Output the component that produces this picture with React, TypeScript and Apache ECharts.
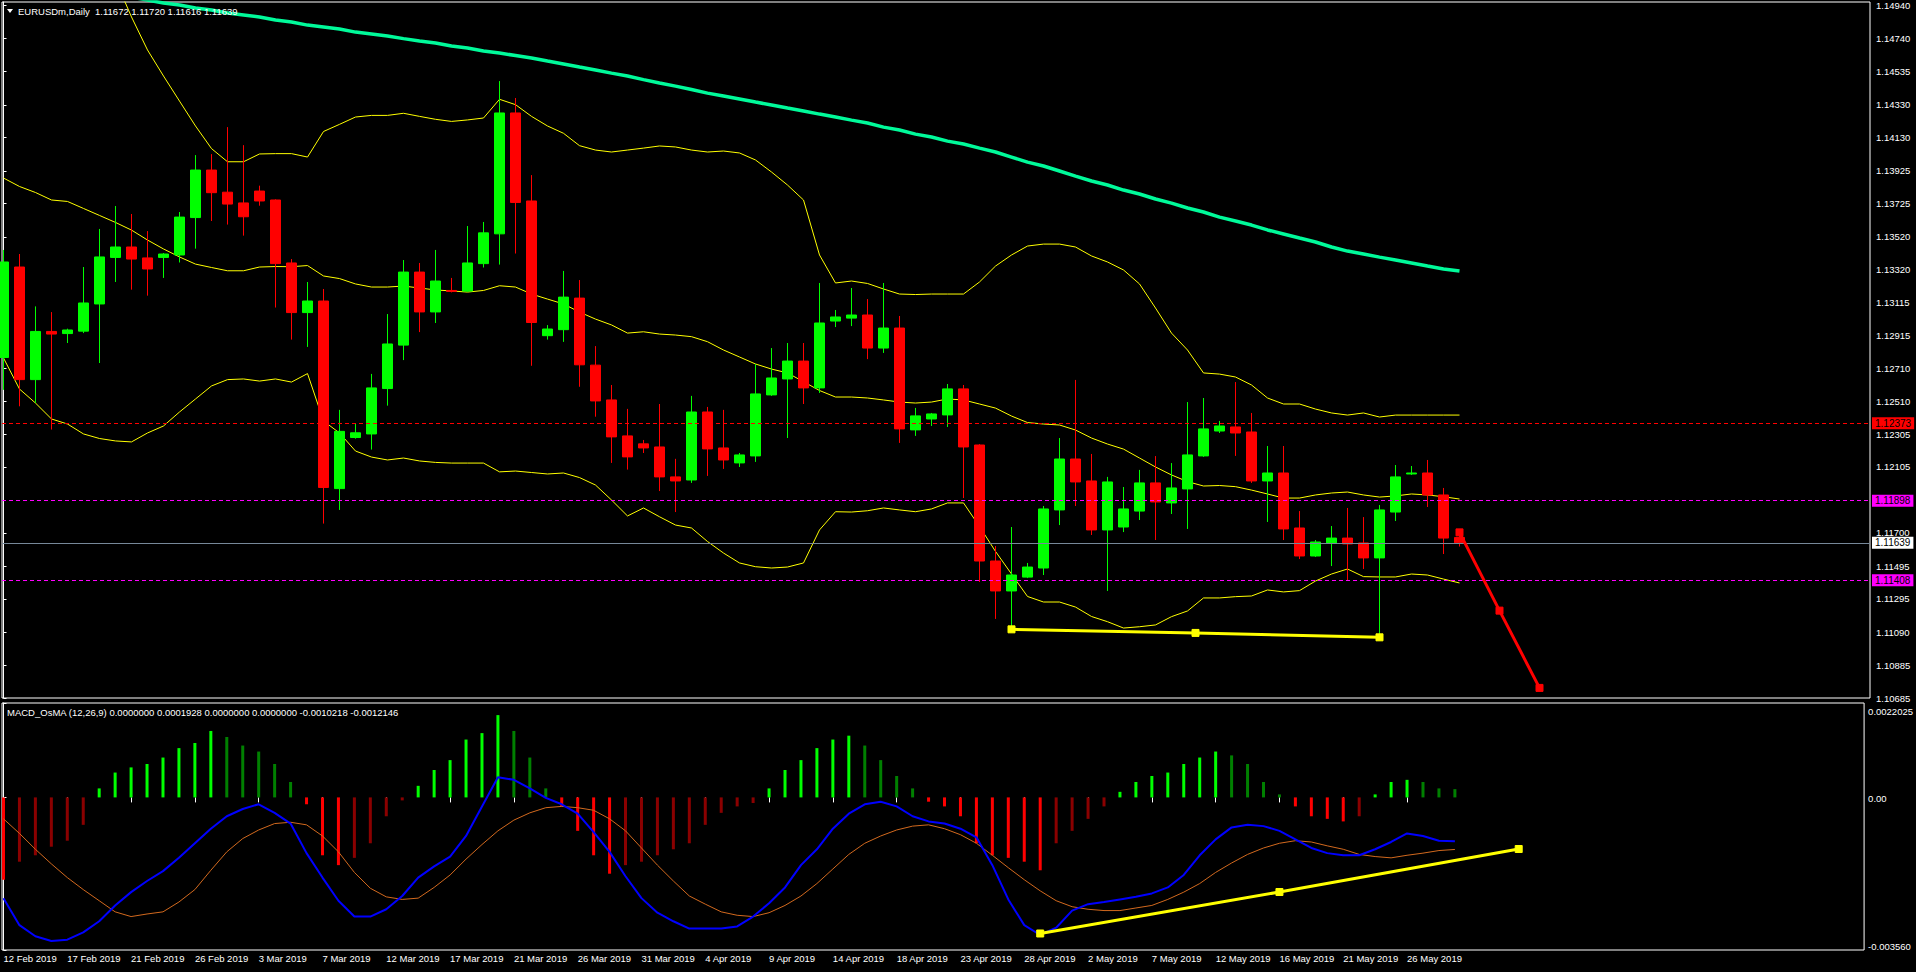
import React, { useEffect, useRef } from "react";
import * as echarts from "echarts";

// ---------- DATA ----------
const symbolTitle = "EURUSDm,Daily";
const macdTitle = "MACD_OsMA (12,26,9)";
const macdBuffers = ["0.0000000", "0.0001928", "0.0000000", "0.0000000"];

const dateLabels = [
  "12 Feb 2019", "17 Feb 2019", "21 Feb 2019", "26 Feb 2019", "3 Mar 2019", "7 Mar 2019",
  "12 Mar 2019", "17 Mar 2019", "21 Mar 2019", "26 Mar 2019", "31 Mar 2019", "4 Apr 2019",
  "9 Apr 2019", "14 Apr 2019", "18 Apr 2019", "23 Apr 2019", "28 Apr 2019", "2 May 2019",
  "7 May 2019", "12 May 2019", "16 May 2019", "21 May 2019", "26 May 2019",
];
const barsPerLabel = 4;

const opens = [
  1.12778, 1.13334, 1.12642, 1.12938, 1.12925, 1.12940, 1.13107, 1.13393, 1.13457, 1.13390,
  1.13393, 1.13408, 1.13638, 1.13930, 1.13794, 1.13728, 1.13801, 1.13746, 1.13359, 1.13054,
  1.13125, 1.11972, 1.12286, 1.12308, 1.12587, 1.12854, 1.13303, 1.13058, 1.13190, 1.13186,
  1.13355, 1.13538, 1.14281, 1.13740, 1.12912, 1.12949, 1.13143, 1.12731, 1.12517, 1.12296,
  1.12247, 1.12228, 1.12044, 1.12025, 1.12443, 1.12222, 1.12130, 1.12173, 1.12548, 1.12646,
  1.12756, 1.12591, 1.13002, 1.13020, 1.13039, 1.12836, 1.12959, 1.12333, 1.12400, 1.12425,
  1.12585, 1.12240, 1.11527, 1.11343, 1.11428, 1.11484, 1.11841, 1.12154, 1.12019, 1.11718,
  1.11736, 1.11834, 1.12007, 1.11884, 1.11970, 1.12173, 1.12326, 1.12351, 1.12320, 1.12019,
  1.12068, 1.11730, 1.11558, 1.11638, 1.11668, 1.11638, 1.11546, 1.11828, 1.12062, 1.12068,
  1.11933, 1.11672,
];
const highs = [
  1.13439, 1.13414, 1.13092, 1.13057, 1.12955, 1.13334, 1.13568, 1.13709, 1.13660, 1.13555,
  1.13420, 1.13672, 1.14022, 1.14028, 1.14194, 1.14083, 1.13834, 1.13750, 1.13383, 1.13242,
  1.13199, 1.12456, 1.12374, 1.12677, 1.13045, 1.13377, 1.13359, 1.13439, 1.13267, 1.13586,
  1.13611, 1.14477, 1.14373, 1.13899, 1.12977, 1.13310, 1.13254, 1.12848, 1.12609, 1.12462,
  1.12271, 1.12492, 1.12155, 1.12542, 1.12474, 1.12456, 1.12191, 1.12738, 1.12836, 1.12867,
  1.12867, 1.13236, 1.13070, 1.13205, 1.13137, 1.13236, 1.13033, 1.12468, 1.12437, 1.12615,
  1.12609, 1.12245, 1.11619, 1.11736, 1.11515, 1.11865, 1.12283, 1.12640, 1.12185, 1.12044,
  1.11982, 1.12087, 1.12172, 1.12129, 1.12504, 1.12529, 1.12388, 1.12627, 1.12437, 1.12234,
  1.12234, 1.11834, 1.11656, 1.11742, 1.11853, 1.11797, 1.11871, 1.12117, 1.12111, 1.12148,
  1.11976, 1.11720,
];
const lows = [
  1.12579, 1.12478, 1.12499, 1.12335, 1.12867, 1.12928, 1.12744, 1.13242, 1.13195, 1.13158,
  1.13267, 1.13362, 1.13447, 1.13617, 1.13595, 1.13527, 1.13711, 1.13085, 1.12888, 1.12843,
  1.11757, 1.11841, 1.12279, 1.12212, 1.12482, 1.12762, 1.12934, 1.12990, 1.13178, 1.13180,
  1.13331, 1.13349, 1.13417, 1.12727, 1.12888, 1.12874, 1.12598, 1.12414, 1.12130, 1.12089,
  1.12191, 1.11957, 1.11828, 1.12007, 1.12050, 1.12093, 1.12105, 1.12136, 1.12542, 1.12283,
  1.12492, 1.12560, 1.12965, 1.12971, 1.12768, 1.12806, 1.12253, 1.12296, 1.12357, 1.12351,
  1.11914, 1.11398, 1.11171, 1.11103, 1.11422, 1.11441, 1.11748, 1.11865, 1.11687, 1.11343,
  1.11705, 1.11779, 1.11656, 1.11816, 1.11724, 1.12167, 1.12314, 1.12173, 1.12007, 1.11767,
  1.11656, 1.11539, 1.11552, 1.11496, 1.11410, 1.11478, 1.11053, 1.11773, 1.12056, 1.11859,
  1.11570, 1.11616,
];
const closes = [
  1.13365, 1.12642, 1.12938, 1.12922, 1.12947, 1.13113, 1.13396, 1.13457, 1.13383, 1.13322,
  1.13414, 1.13641, 1.13930, 1.13791, 1.13721, 1.13643, 1.13740, 1.13355, 1.13054, 1.13125,
  1.11979, 1.12324, 1.12315, 1.12591, 1.12861, 1.13303, 1.13058, 1.13248, 1.13184, 1.13359,
  1.13544, 1.14281, 1.13731, 1.12993, 1.12953, 1.13149, 1.12733, 1.12511, 1.12290, 1.12167,
  1.12222, 1.12044, 1.12019, 1.12443, 1.12216, 1.12148, 1.12179, 1.12554, 1.12652, 1.12756,
  1.12591, 1.12990, 1.13027, 1.13039, 1.12836, 1.12959, 1.12339, 1.12419, 1.12431, 1.12585,
  1.12228, 1.11527, 1.11343, 1.11441, 1.11490, 1.11847, 1.12154, 1.12013, 1.11718, 1.12013,
  1.11847, 1.12007, 1.11890, 1.11976, 1.12179, 1.12339, 1.12357, 1.12314, 1.12019, 1.12068,
  1.11724, 1.11558, 1.11644, 1.11668, 1.11632, 1.11546, 1.11841, 1.12044, 1.12068, 1.11933,
  1.11668, 1.11639,
];

const bbUpper = [
  1.15762, 1.15743, 1.15713, 1.15651, 1.15559, 1.15436, 1.15282, 1.15098, 1.14871, 1.14668,
  1.14508, 1.14354, 1.14201, 1.14062, 1.13981, 1.13981, 1.14029, 1.14031, 1.14031, 1.14010,
  1.14167, 1.14211, 1.14256, 1.14266, 1.14266, 1.14279, 1.14260, 1.14242, 1.14229, 1.14238,
  1.14250, 1.14365, 1.14332, 1.14260, 1.14201, 1.14156, 1.14080, 1.14053, 1.14041, 1.14053,
  1.14065, 1.14078, 1.14072, 1.14053, 1.14041, 1.14047, 1.14035, 1.13992, 1.13918, 1.13838,
  1.13746, 1.13408, 1.13236, 1.13248, 1.13233, 1.13199, 1.13168, 1.13165, 1.13168, 1.13168,
  1.13168, 1.13242, 1.13340, 1.13408, 1.13463, 1.13475, 1.13475, 1.13457, 1.13402, 1.13365,
  1.13316, 1.13230, 1.13082, 1.12928, 1.12824, 1.12683, 1.12676, 1.12658, 1.12609, 1.12529,
  1.12492, 1.12492, 1.12461, 1.12437, 1.12424, 1.12437, 1.12412, 1.12424, 1.12424, 1.12424,
  1.12424, 1.12424,
];
const bbMiddle = [
  1.13881, 1.13829, 1.13792, 1.13746, 1.13737, 1.13694, 1.13651, 1.13608, 1.13561, 1.13500,
  1.13445, 1.13396, 1.13352, 1.13331, 1.13311, 1.13311, 1.13334, 1.13337, 1.13336, 1.13343,
  1.13279, 1.13263, 1.13230, 1.13211, 1.13211, 1.13217, 1.13205, 1.13193, 1.13187, 1.13180,
  1.13190, 1.13219, 1.13211, 1.13168, 1.13137, 1.13107, 1.13057, 1.13014, 1.12978, 1.12928,
  1.12936, 1.12922, 1.12916, 1.12906, 1.12875, 1.12824, 1.12781, 1.12738, 1.12707, 1.12683,
  1.12629, 1.12575, 1.12535, 1.12535, 1.12529, 1.12517, 1.12504, 1.12498, 1.12504, 1.12523,
  1.12517, 1.12492, 1.12467, 1.12418, 1.12378, 1.12369, 1.12363, 1.12332, 1.12283, 1.12246,
  1.12215, 1.12160, 1.12105, 1.12056, 1.12015, 1.11988, 1.11991, 1.11984, 1.11963, 1.11939,
  1.11914, 1.11914, 1.11933, 1.11945, 1.11951, 1.11933, 1.11920, 1.11927, 1.11939, 1.11933,
  1.11922, 1.11908,
];
const bbLower = [
  1.12775, 1.12584, 1.12498, 1.12400, 1.12369, 1.12308, 1.12280, 1.12265, 1.12259, 1.12314,
  1.12357, 1.12443, 1.12523, 1.12603, 1.12642, 1.12646, 1.12633, 1.12646, 1.12627, 1.12679,
  1.12388, 1.12314, 1.12203, 1.12166, 1.12148, 1.12160, 1.12142, 1.12133, 1.12129, 1.12129,
  1.12129, 1.12075, 1.12080, 1.12071, 1.12062, 1.12068, 1.12040, 1.11994, 1.11902, 1.11804,
  1.11853, 1.11799, 1.11748, 1.11730, 1.11647, 1.11576, 1.11515, 1.11492, 1.11484, 1.11490,
  1.11515, 1.11718, 1.11830, 1.11828, 1.11836, 1.11853, 1.11841, 1.11830, 1.11847, 1.11884,
  1.11884, 1.11739, 1.11586, 1.11447, 1.11309, 1.11275, 1.11275, 1.11244, 1.11186, 1.11154,
  1.11115, 1.11123, 1.11134, 1.11185, 1.11220, 1.11300, 1.11300, 1.11308, 1.11312, 1.11349,
  1.11337, 1.11345, 1.11404, 1.11447, 1.11478, 1.11431, 1.11429, 1.11429, 1.11447, 1.11441,
  1.11416, 1.11392,
];
const ma200 = [
  1.15129, 1.15110, 1.15092, 1.15073, 1.15055, 1.15036, 1.15024, 1.15006, 1.14993, 1.14975,
  1.14957, 1.14944, 1.14926, 1.14914, 1.14895, 1.14883, 1.14871, 1.14852, 1.14840, 1.14821,
  1.14809, 1.14797, 1.14778, 1.14766, 1.14754, 1.14738, 1.14723, 1.14711, 1.14692, 1.14680,
  1.14662, 1.14649, 1.14634, 1.14619, 1.14600, 1.14582, 1.14563, 1.14545, 1.14526, 1.14508,
  1.14486, 1.14465, 1.14446, 1.14425, 1.14403, 1.14385, 1.14367, 1.14348, 1.14330, 1.14311,
  1.14293, 1.14274, 1.14256, 1.14237, 1.14219, 1.14194, 1.14176, 1.14151, 1.14133, 1.14108,
  1.14090, 1.14065, 1.14041, 1.14010, 1.13979, 1.13955, 1.13924, 1.13893, 1.13863, 1.13838,
  1.13807, 1.13783, 1.13752, 1.13727, 1.13697, 1.13672, 1.13641, 1.13617, 1.13592, 1.13562,
  1.13537, 1.13512, 1.13488, 1.13457, 1.13432, 1.13414, 1.13395, 1.13377, 1.13359, 1.13340,
  1.13322, 1.13309,
];

const macdMain = [
  -0.00235, -0.00298, -0.00324, -0.00335, -0.00332, -0.00315, -0.00289, -0.00252, -0.00221, -0.00195,
  -0.00172, -0.00141, -0.00107, -0.00073, -0.00044, -0.00027, -0.00016, -0.00036, -0.00061, -0.00130,
  -0.00187, -0.00241, -0.00278, -0.00278, -0.00261, -0.00230, -0.00187, -0.00161, -0.00138, -0.00090,
  -0.00021, 0.00047, 0.00041, 0.00021, -0.00001, -0.00016, -0.00038, -0.00081, -0.00127, -0.00184,
  -0.00235, -0.00269, -0.00289, -0.00306, -0.00306, -0.00306, -0.00301, -0.00278, -0.00247, -0.00210,
  -0.00158, -0.00121, -0.00073, -0.00038, -0.00016, -0.00010, -0.00021, -0.00044, -0.00056, -0.00061,
  -0.00073, -0.00093, -0.00158, -0.00238, -0.00298, -0.00321, -0.00304, -0.00264, -0.00249, -0.00244,
  -0.00238, -0.00232, -0.00224, -0.00210, -0.00181, -0.00135, -0.00098, -0.00070, -0.00064, -0.00067,
  -0.00078, -0.00098, -0.00118, -0.00130, -0.00135, -0.00135, -0.00121, -0.00104, -0.00084, -0.00090,
  -0.00101, -0.0010218,
];
const macdSignal = [
  -0.00050, -0.00084, -0.00121, -0.00155, -0.00187, -0.00215, -0.00241, -0.00267, -0.00278, -0.00272,
  -0.00267, -0.00244, -0.00215, -0.00170, -0.00127, -0.00096, -0.00076, -0.00061, -0.00058, -0.00064,
  -0.00090, -0.00127, -0.00175, -0.00212, -0.00232, -0.00238, -0.00235, -0.00210, -0.00181, -0.00144,
  -0.00110, -0.00078, -0.00053, -0.00036, -0.00024, -0.00021, -0.00024, -0.00030, -0.00050, -0.00078,
  -0.00118, -0.00158, -0.00195, -0.00230, -0.00249, -0.00267, -0.00275, -0.00278, -0.00269, -0.00252,
  -0.00230, -0.00201, -0.00167, -0.00133, -0.00107, -0.00090, -0.00076, -0.00067, -0.00064, -0.00073,
  -0.00087, -0.00107, -0.00135, -0.00164, -0.00192, -0.00218, -0.00241, -0.00255, -0.00261, -0.00264,
  -0.00264, -0.00258, -0.00252, -0.00238, -0.00221, -0.00201, -0.00175, -0.00153, -0.00133, -0.00118,
  -0.00107, -0.00101, -0.00104, -0.00113, -0.00121, -0.00133, -0.00138, -0.00141, -0.00135, -0.00130,
  -0.00124, -0.0012146,
];
const osma = [
  -0.00192, -0.00150, -0.00135, -0.00115, -0.00101, -0.00064, 0.00021, 0.00058, 0.00070, 0.00078,
  0.00093, 0.00115, 0.00127, 0.00155, 0.00141, 0.00121, 0.00107, 0.00078, 0.00036, -0.00016,
  -0.00135, -0.00158, -0.00141, -0.00107, -0.00044, -0.00007, 0.00027, 0.00064, 0.00087, 0.00135,
  0.00150, 0.00192, 0.00155, 0.00093, 0.00021, -0.00021, -0.00078, -0.00135, -0.00178, -0.00158,
  -0.00150, -0.00135, -0.00121, -0.00107, -0.00064, -0.00036, -0.00021, -0.00013, 0.00021, 0.00064,
  0.00087, 0.00115, 0.00135, 0.00144, 0.00121, 0.00087, 0.00050, 0.00021, -0.00010, -0.00021,
  -0.00044, -0.00107, -0.00135, -0.00141, -0.00150, -0.00170, -0.00107, -0.00078, -0.00050, -0.00021,
  0.00013, 0.00036, 0.00050, 0.00058, 0.00078, 0.00093, 0.00107, 0.00098, 0.00078, 0.00036,
  0.00007, -0.00021, -0.00044, -0.00050, -0.00056, -0.00044, 0.00007, 0.00036, 0.00041, 0.00036,
  0.00021, 0.0001928,
];

const priceTicks = [
  1.14940, 1.14740, 1.14535, 1.14330, 1.14130, 1.13925, 1.13725, 1.13520, 1.13320, 1.13115,
  1.12915, 1.12710, 1.12510, 1.12305, 1.12105, 1.11700, 1.11495, 1.11295, 1.11090, 1.10885, 1.10685,
];
const macdTicks = [0.0022025, 0, -0.00356];
const macdTickLabels = ["0.0022025", "0.00", "-0.003560"];

// horizontal levels
const levelPrices = [1.12373, 1.11898, 1.11408, 1.11639];
const levelKinds = ["red", "magenta", "magenta", "bid"];

// trend lines: [barIndex, value]
const supportLine = [[63, 1.11107], [74.5, 1.11085], [86, 1.11058]];
const projectionLine = [[91, 1.11703], [93.5, 1.11222], [96, 1.10747]];
const macdTrendLine = [[65, -0.003175], [80, -0.002207], [95, -0.001204]];

// ---------- LAYOUT ----------
const FONT = "'Liberation Sans', Arial, sans-serif";
const X_MIN = -0.09375;
const X_MAX = 116.65625;
const P_MIN = 1.10685;
const P_MAX = 1.14963;
const M_MIN = -0.00356;
const M_MAX = 0.0022025;

export default function App() {
  const ref = useRef<HTMLDivElement>(null);
  useEffect(() => {
    document.body.style.margin = "0";
    document.body.style.background = "#000";
    const chart = echarts.init(ref.current!, null, { renderer: "svg" });
    const idx = opens.map((_, i) => i);
    const labelBars = dateLabels.map((_, i) => i * barsPerLabel);
    const last = opens.length - 1;

    const levelStyle: Record<string, any> = {
      red: { line: "#ff0000", type: [4, 3], bg: "#ff0000", fg: "#000000" },
      magenta: { line: "#ff00ff", type: [4, 3], bg: "#ff00ff", fg: "#000000" },
      bid: { line: "#778899", type: "solid", bg: "#ffffff", fg: "#000000" },
    };

    const histColors = osma.map((v, i) => {
      const prev = i > 0 ? osma[i - 1] : v;
      if (v >= 0) return v >= prev ? "#00ff00" : "#008000";
      return v <= prev ? "#ff0000" : "#8b0000";
    });

    const lineSeries = (data: number[], color: string, width: number, z = 3) => ({
      type: "line",
      xAxisIndex: 0,
      yAxisIndex: 0,
      data: data.map((v, i) => [i, v]),
      showSymbol: false,
      symbol: "none",
      silent: true,
      z,
      lineStyle: { color, width },
    });

    const trend = (pts: number[][], color: string, axis: number) => ({
      type: "line",
      xAxisIndex: axis,
      yAxisIndex: axis,
      data: pts,
      symbol: "rect",
      symbolSize: 7,
      showSymbol: true,
      silent: true,
      z: 8,
      itemStyle: { color, borderColor: color },
      lineStyle: { color, width: 3 },
    });

    const levelsSeries = {
      ...lineSeries(bbMiddle, "#ffff00", 1),
      markLine: {
        silent: true,
        symbol: ["none", "none"],
        animation: false,
        precision: 5,
        data: levelPrices.map((p, i) => {
          const st = levelStyle[levelKinds[i]];
          return {
            yAxis: p,
            lineStyle: { color: st.line, type: st.type, width: 1 },
            label: {
              show: true,
              position: "end",
              distance: 2,
              formatter: () => p.toFixed(5),
              backgroundColor: st.bg,
              color: st.fg,
              fontSize: 10,
              fontFamily: FONT,
              padding: [1, 3, 1, 3],
            },
          };
        }),
      },
    };

    const option: any = {
      animation: false,
      backgroundColor: "#000000",
      textStyle: { fontFamily: FONT },
      grid: [
        { left: 2, top: 2, width: 1868, height: 696, show: true, borderColor: "#ffffff", borderWidth: 1, backgroundColor: "#000000" },
        { left: 2, top: 703, width: 1868, height: 247, show: true, borderColor: "#ffffff", borderWidth: 1, backgroundColor: "#000000" },
      ],
      xAxis: [
        { type: "value", gridIndex: 0, min: X_MIN, max: X_MAX, show: false },
        {
          type: "value",
          gridIndex: 1,
          min: X_MIN,
          max: X_MAX,
          splitLine: { show: false },
          axisLine: { show: false },
          axisTick: { show: true, customValues: labelBars, length: 5, lineStyle: { color: "#ffffff" } },
          axisLabel: {
            customValues: labelBars,
            formatter: (v: number) => dateLabels[Math.round(v / barsPerLabel)] ?? "",
            color: "#ffffff",
            fontSize: 9.5,
            fontFamily: FONT,
            align: "left",
            margin: 3,
          },
        },
      ],
      yAxis: [
        {
          type: "value",
          gridIndex: 0,
          position: "right",
          min: P_MIN,
          max: P_MAX,
          splitLine: { show: false },
          axisLine: { show: true, lineStyle: { color: "#ffffff" } },
          axisTick: { show: true, customValues: priceTicks, length: 3, lineStyle: { color: "#ffffff" } },
          axisLabel: {
            customValues: priceTicks,
            formatter: (v: number) => v.toFixed(5),
            color: "#ffffff",
            fontSize: 9.5,
            fontFamily: FONT,
            margin: 6,
          },
        },
        {
          type: "value",
          gridIndex: 1,
          position: "right",
          min: M_MIN,
          max: M_MAX,
          splitLine: { show: false },
          axisLine: { show: true, lineStyle: { color: "#ffffff" } },
          axisTick: { show: true, customValues: macdTicks, length: 3, lineStyle: { color: "#ffffff" } },
          axisLabel: {
            customValues: macdTicks,
            formatter: (v: number) => {
              const i = macdTicks.findIndex((t) => Math.abs(t - v) < 1e-9);
              const s = macdTickLabels[i] ?? "";
              if (i === 0) return "{t|" + s + "}";
              if (i === macdTicks.length - 1) return "{b|" + s + "}";
              return "{m|" + s + "}";
            },
            color: "#ffffff",
            fontSize: 9.5,
            fontFamily: FONT,
            margin: 4,
            rich: {
              t: { color: "#ffffff", fontSize: 9.5, fontFamily: FONT, padding: [16, 0, 0, 0] },
              m: { color: "#ffffff", fontSize: 9.5, fontFamily: FONT, padding: [3, 0, 0, 0] },
              b: { color: "#ffffff", fontSize: 9.5, fontFamily: FONT, padding: [0, 0, 8, 0] },
            },
          },
        },
      ],
      series: [
        {
          type: "candlestick",
          xAxisIndex: 0,
          yAxisIndex: 0,
          barWidth: 11,
          z: 4,
          silent: true,
          data: idx.map((i) => [i, opens[i], closes[i], lows[i], highs[i]]),
          encode: { x: 0, y: [1, 2, 3, 4] },
          itemStyle: {
            color: "#00ff00",
            color0: "#ff0000",
            borderColor: "#00ff00",
            borderColor0: "#ff0000",
            borderColorDoji: "#00ff00",
            borderWidth: 1,
          },
        },
        lineSeries(bbUpper, "#ffff00", 1),
        levelsSeries,
        lineSeries(bbLower, "#ffff00", 1),
        lineSeries(ma200, "#00fa9a", 3.5),
        trend(supportLine, "#ffff00", 0),
        trend(projectionLine, "#ff0000", 0),
        {
          type: "bar",
          xAxisIndex: 1,
          yAxisIndex: 1,
          barWidth: 3,
          silent: true,
          data: osma.map((v, i) => ({ value: [i, v], itemStyle: { color: histColors[i] } })),
        },
        {
          type: "line",
          xAxisIndex: 1,
          yAxisIndex: 1,
          data: macdSignal.map((v, i) => [i, v]),
          showSymbol: false,
          symbol: "none",
          silent: true,
          lineStyle: { color: "#d2691e", width: 1 },
        },
        {
          type: "line",
          xAxisIndex: 1,
          yAxisIndex: 1,
          data: macdMain.map((v, i) => [i, v]),
          showSymbol: false,
          symbol: "none",
          silent: true,
          lineStyle: { color: "#0000ff", width: 2 },
        },
        trend(macdTrendLine, "#ffff00", 1),
      ],
      graphic: [
        { type: "polygon", shape: { points: [[7, 9], [13, 9], [10, 13]] }, style: { fill: "#ffffff" }, z: 100 },
        {
          type: "text",
          x: 18,
          y: 11,
          z: 100,
          style: {
            text:
              symbolTitle +
              "  " +
              [opens[last], highs[last], lows[last], closes[last]].map((v) => v.toFixed(5)).join(" "),
            fill: "#ffffff",
            font: "9.5px " + FONT,
            verticalAlign: "middle",
          },
        },
        {
          type: "text",
          x: 7,
          y: 712,
          z: 100,
          style: {
            text:
              macdTitle +
              " " +
              macdBuffers.join(" ") +
              " " +
              macdMain[last].toFixed(7) +
              " " +
              macdSignal[last].toFixed(7),
            fill: "#ffffff",
            font: "9.5px " + FONT,
            verticalAlign: "middle",
          },
        },
      ],
    };
    chart.setOption(option);
    return () => chart.dispose();
  }, []);
  return <div ref={ref} style={{ width: 1916, height: 972, background: "#000000" }} />;
}
